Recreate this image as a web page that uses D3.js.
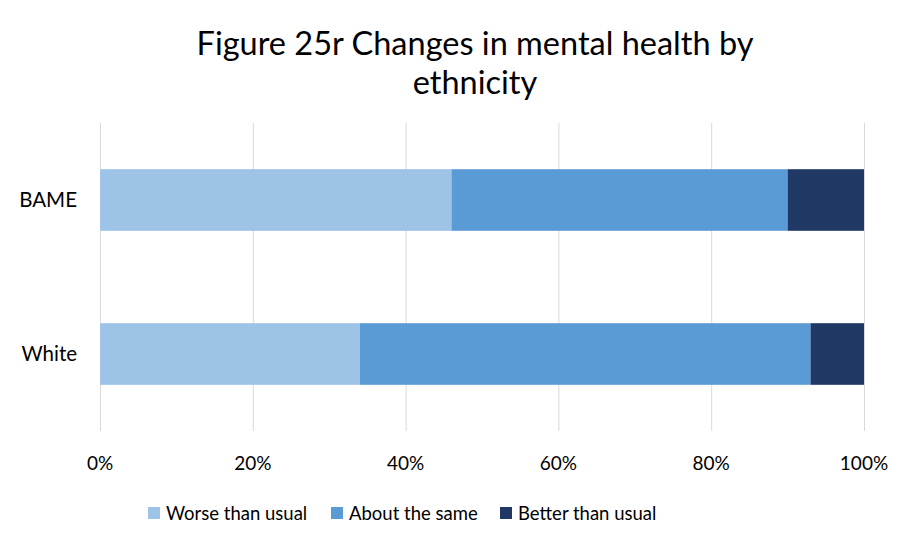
<!DOCTYPE html>
<html lang="en">
<head>
<meta charset="utf-8">
<script src="https://d3js.org/d3.v7.min.js"></script>
<style>
  body { margin: 0; background: #fff; }
  text { font-family: Lato, "Open Sans", sans-serif; fill: #000; }
  .grid line { stroke: #d9d9d9; stroke-width: 1; }
</style>
</head>
<body>
<svg width="921" height="536"></svg>
<script>
var groups = ["BAME", "White"];
var series = ["Worse than usual", "About the same", "Better than usual"];
var worse = [46, 34];
var same = [44, 59];
var better = [10, 7];
var ticks = [0, 20, 40, 60, 80, 100];
var colors = ["#9dc3e6", "#5b9bd5", "#203864"];

var svg = d3.select("svg");

var x = d3.scaleLinear().domain([0, 100]).range([100, 864]);
var y = d3.scaleBand().domain(groups).range([123, 431]).paddingInner(0.6).paddingOuter(0.3);

// title
svg.append("text").attr("x", 475).attr("y", 55).attr("text-anchor", "middle")
  .style("font-size", "32.5px").text("Figure 25r Changes in mental health by");
svg.append("text").attr("x", 475).attr("y", 94).attr("text-anchor", "middle")
  .style("font-size", "32.5px").text("ethnicity");

// gridlines
svg.append("g").attr("class", "grid").selectAll("line")
  .data(ticks).enter().append("line")
  .attr("x1", function(d) { return x(d) + 0.5; })
  .attr("x2", function(d) { return x(d) + 0.5; })
  .attr("y1", 123).attr("y2", 431);

// stacked bars
var rows = groups.map(function(g, i) {
  return { group: g, "Worse than usual": worse[i], "About the same": same[i], "Better than usual": better[i] };
});
var stack = d3.stack().keys(series)(rows);

svg.append("g").selectAll("g")
  .data(stack).enter().append("g")
  .attr("fill", function(d, i) { return colors[i]; })
  .selectAll("rect")
  .data(function(d) { return d; }).enter().append("rect")
  .attr("x", function(d) { return x(d[0]); })
  .attr("width", function(d) { return x(d[1]) - x(d[0]); })
  .attr("y", function(d) { return y(d.data.group); })
  .attr("height", y.bandwidth());

// x tick labels
svg.append("g").selectAll("text")
  .data(ticks).enter().append("text")
  .attr("x", function(d) { return x(d); })
  .attr("y", 470)
  .attr("text-anchor", "middle")
  .style("font-size", "19px")
  .text(function(d) { return d + "%"; });

// category labels
svg.append("g").selectAll("text")
  .data(groups).enter().append("text")
  .attr("x", 77)
  .attr("y", function(d) { return y(d) + y.bandwidth() / 2 + 7; })
  .attr("text-anchor", "end")
  .style("font-size", "20.5px")
  .text(function(d) { return d; });

// legend
var legX = [148, 331, 500];
var leg = svg.append("g").selectAll("g")
  .data(series).enter().append("g")
  .attr("transform", function(d, i) { return "translate(" + legX[i] + ",0)"; });
leg.append("rect").attr("x", 0).attr("y", 507).attr("width", 12).attr("height", 12)
  .attr("fill", function(d, i) { return colors[i]; });
leg.append("text").attr("x", 18).attr("y", 520).style("font-size", "18.5px")
  .text(function(d) { return d; });
</script>
</body>
</html>
